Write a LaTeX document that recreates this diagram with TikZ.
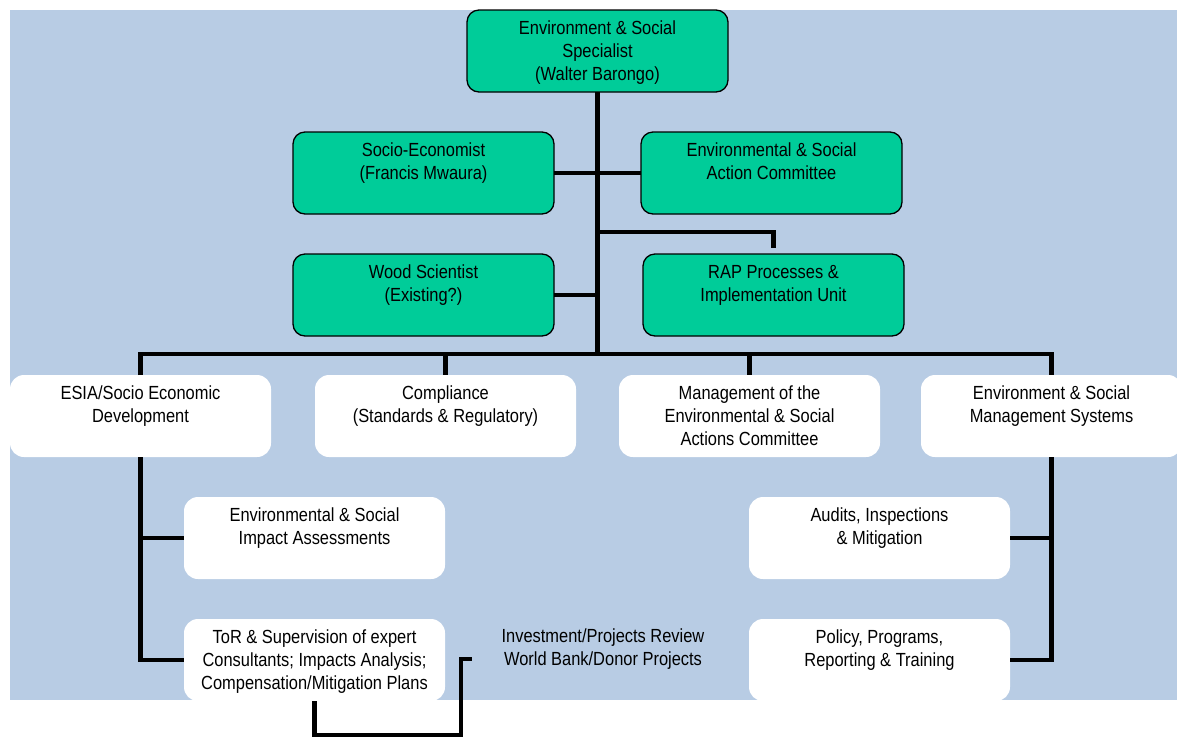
\documentclass[tikz,border=0pt]{standalone}
\usepackage{fontspec}
\setmainfont{Liberation Sans}[FakeStretch=0.865]
\definecolor{bgblue}{HTML}{B8CCE4}
\definecolor{boxgreen}{HTML}{00CC99}
\newcommand\boxtext[1]{\parbox[t][82pt][t]{261pt}{\centering\fontsize{19pt}{23pt}\selectfont\rule{0pt}{24pt}#1}}
\tikzset{
  gbox/.style={draw=black, line width=1.3pt, fill=boxgreen, rounded corners=12pt, inner sep=0pt, outer sep=0pt, anchor=north west, minimum width=261pt, minimum height=82pt},
  wbox/.style={fill=white, rounded corners=14pt, inner sep=0pt, outer sep=0pt, anchor=north west, minimum width=261pt, minimum height=82pt},
  conn/.style={line width=4.5pt, line join=miter, black},
  plain/.style={inner sep=0pt, align=center, font=\fontsize{19pt}{23pt}\selectfont}
}
\begin{document}
\begin{tikzpicture}[x=1pt,y=-1pt]
\useasboundingbox (0,0) rectangle (1177,737);
\clip (0,0) rectangle (1177,737);
\fill[bgblue] (10,10) rectangle (1190,700);

% green boxes
\node[gbox] (top) at (467,10) {\boxtext{Environment \& Social\\Specialist\\(Walter Barongo)}};
\node[gbox] (socio) at (293,132) {\boxtext{Socio-Economist\\(Francis Mwaura)}};
\node[gbox] (eac) at (641,132) {\boxtext{Environmental \& Social\\Action Committee}};
\node[gbox] (wood) at (293,254) {\boxtext{Wood Scientist\\(Existing?)}};
\node[gbox] (rap) at (643,254) {\boxtext{RAP Processes \&\\Implementation Unit}};

% white boxes
\node[wbox] (esia) at (10,375) {\boxtext{ESIA/Socio Economic\\Development}};
\node[wbox] (comp) at (315,375) {\boxtext{Compliance\\(Standards \& Regulatory)}};
\node[wbox] (mgmt) at (619,375) {\boxtext{Management of the\\Environmental \& Social\\Actions Committee}};
\node[wbox] (esms) at (921,375) {\boxtext{Environment \& Social\\Management Systems}};
\node[wbox] (eia) at (184,497) {\boxtext{Environmental \& Social\\Impact Assessments}};
\node[wbox] (tor) at (184,619) {\boxtext{ToR \& Supervision of expert\\Consultants; Impacts Analysis;\\Compensation/Mitigation Plans}};
\node[wbox] (audit) at (749,497) {\boxtext{Audits, Inspections\\\& Mitigation}};
\node[wbox] (policy) at (749,619) {\boxtext{Policy, Programs,\\Reporting \& Training}};

\node[plain] (invest) at (603,649) {Investment/Projects Review\\World Bank/Donor Projects};

% coordinates
\coordinate (bus) at (597.5,354);
\coordinate (rapjoin) at (597.5,232);
\coordinate (rapend) at (773.5,248);
\coordinate (brkbot) at (461,735);
\coordinate (invstub) at (472,659);

% connectors
\draw[conn] (top.south) -- (bus);
\draw[conn] (socio.east) -- (eac.west);
\draw[conn] (wood.east) -- (wood.east -| top.south);
\draw[conn] (rapjoin) -| (rapend);
\draw[conn] (esia.north) -- (esia.north |- bus) -- (esms.north |- bus) -- (esms.north);
\draw[conn] (comp.north |- bus) -- (comp.north);
\draw[conn] (mgmt.north |- bus) -- (mgmt.north);
\draw[conn] (esia.south) |- (tor.west);
\draw[conn] (eia.west) -- (eia.west -| esia.south);
\draw[conn] (esms.south) |- (policy.east);
\draw[conn] (audit.east) -- (audit.east -| esms.south);
\draw[conn] (tor.south) |- (brkbot) -- (brkbot |- invstub) -- (invstub);
\end{tikzpicture}
\end{document}
